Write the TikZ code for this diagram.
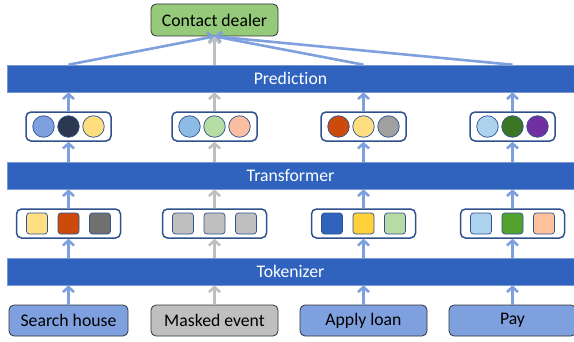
\documentclass[tikz,border=0pt]{standalone}
\usepackage{fontspec}
\setmainfont{Carlito}[Ligatures=CommonOff]
\usetikzlibrary{positioning,arrows.meta}

\definecolor{barblue}{RGB}{47,99,190}
\definecolor{barline}{RGB}{120,150,210}
\definecolor{arrowblue}{RGB}{127,160,222}
\definecolor{arrowgray}{RGB}{191,191,191}
\definecolor{eventblue}{RGB}{127,160,222}
\definecolor{maskgray}{RGB}{191,191,191}
\definecolor{boxline}{RGB}{47,82,143}
\definecolor{dealergreen}{RGB}{148,202,122}
% embedding circles
\definecolor{c11}{RGB}{127,160,222}
\definecolor{c12}{RGB}{43,56,80}
\definecolor{c13}{RGB}{255,222,128}
\definecolor{c21}{RGB}{140,188,230}
\definecolor{c22}{RGB}{181,221,165}
\definecolor{c23}{RGB}{251,190,160}
\definecolor{c31}{RGB}{204,74,10}
\definecolor{c32}{RGB}{255,222,128}
\definecolor{c33}{RGB}{160,160,160}
\definecolor{c41}{RGB}{173,210,238}
\definecolor{c42}{RGB}{58,118,36}
\definecolor{c43}{RGB}{112,48,160}
% token squares
\definecolor{s11}{RGB}{255,224,130}
\definecolor{s12}{RGB}{204,74,10}
\definecolor{s13}{RGB}{112,112,112}
\definecolor{s2}{RGB}{191,191,191}
\definecolor{s31}{RGB}{47,99,190}
\definecolor{s32}{RGB}{255,210,60}
\definecolor{s33}{RGB}{182,219,165}
\definecolor{s41}{RGB}{173,210,238}
\definecolor{s42}{RGB}{82,162,46}
\definecolor{s43}{RGB}{255,192,158}

\tikzset{
  event/.style={draw=black!80, line width=0.8pt, fill=eventblue, rounded corners=5pt, minimum width=127pt, minimum height=31pt, inner sep=0pt},
  layer/.style={draw=barline, line width=0.6pt, fill=barblue, text=white, minimum width=567pt, minimum height=27pt, inner sep=0pt},
  tokbox/.style={draw=boxline, line width=1.5pt, fill=white, rounded corners=5pt, minimum width=104pt, minimum height=29pt},
  embbox/.style={draw=boxline, line width=1.5pt, fill=white, rounded corners=5pt, minimum width=85pt, minimum height=29pt},
  square/.style={draw=boxline, line width=0.7pt, rounded corners=3pt, minimum size=21pt, inner sep=0pt},
  dot/.style={circle, draw=boxline, line width=0.7pt, minimum size=21.5pt, inner sep=0pt},
  dealer/.style={draw=black!80, line width=0.8pt, fill=dealergreen, rounded corners=5pt, minimum width=127pt, minimum height=32pt, inner sep=0pt},
  bluearrow/.style={draw=arrowblue, line width=2.6pt, -{Straight Barb[length=5pt,width=11pt]}},
  grayarrow/.style={draw=arrowgray, line width=2.6pt, -{Straight Barb[length=5pt,width=11pt]}}
}

\begin{document}
\begin{tikzpicture}[x=1pt, y=1pt, font=\fontsize{17.7}{20}\selectfont]
        \clip (0,0) rectangle (574,341);
        \node[event, minimum width=119pt] (search) at (68.5,20.5) {Search house};
        \node[event, fill=maskgray, right of=search, node distance=146pt] (masked) {Masked event};
        \node[event, right of=masked, node distance=149pt] (apply) {Apply loan};
        \node[event, right of=apply, node distance=149pt] (pay) {Pay};

        \node[layer] (tokenizer) at (290.5,69.5) {Tokenizer};
        \node[layer, above of=tokenizer, node distance=96pt] (transformer) {Transformer};
        \node[layer, above of=transformer, node distance=97pt] (prediction) {Prediction};

        % tokens
        \node[tokbox, above of=search, node distance=97pt] (tok1) {};
        \node[tokbox, above of=masked, node distance=97pt] (tok2) {};
        \node[tokbox, above of=apply, node distance=97pt] (tok3) {};
        \node[tokbox, above of=pay, node distance=97pt] (tok4) {};
        \node[square, fill=s11, left of=tok1, node distance=31.5pt] (sq11) {};
        \node[square, fill=s12] (sq12) at (tok1) {};
        \node[square, fill=s13, right of=tok1, node distance=31.5pt] (sq13) {};
        \node[square, fill=s2, left of=tok2, node distance=31.5pt] (sq21) {};
        \node[square, fill=s2] (sq22) at (tok2) {};
        \node[square, fill=s2, right of=tok2, node distance=31.5pt] (sq23) {};
        \node[square, fill=s31, left of=tok3, node distance=31.5pt] (sq31) {};
        \node[square, fill=s32] (sq32) at (tok3) {};
        \node[square, fill=s33, right of=tok3, node distance=31.5pt] (sq33) {};
        \node[square, fill=s41, left of=tok4, node distance=31.5pt] (sq41) {};
        \node[square, fill=s42] (sq42) at (tok4) {};
        \node[square, fill=s43, right of=tok4, node distance=31.5pt] (sq43) {};

        % embeddings
        \node[embbox, above of=tok1, node distance=97pt] (emb1) {};
        \node[embbox, above of=tok2, node distance=97pt] (emb2) {};
        \node[embbox, above of=tok3, node distance=97pt] (emb3) {};
        \node[embbox, above of=tok4, node distance=97pt] (emb4) {};
        \node[dot, fill=c11, left of=emb1, node distance=25pt] (dot11) {};
        \node[dot, fill=c12] (dot12) at (emb1) {};
        \node[dot, fill=c13, right of=emb1, node distance=25pt] (dot13) {};
        \node[dot, fill=c21, left of=emb2, node distance=25pt] (dot21) {};
        \node[dot, fill=c22] (dot22) at (emb2) {};
        \node[dot, fill=c23, right of=emb2, node distance=25pt] (dot23) {};
        \node[dot, fill=c31, left of=emb3, node distance=25pt] (dot31) {};
        \node[dot, fill=c32] (dot32) at (emb3) {};
        \node[dot, fill=c33, right of=emb3, node distance=25pt] (dot33) {};
        \node[dot, fill=c41, left of=emb4, node distance=25pt] (dot41) {};
        \node[dot, fill=c42] (dot42) at (emb4) {};
        \node[dot, fill=c43, right of=emb4, node distance=25pt] (dot43) {};

        \node[dealer, above of=emb2, node distance=106.5pt] (dealer) {Contact dealer};

        % events -> tokenizer
        \draw[bluearrow] (search.north) -- (search.north |- tokenizer.south);
        \draw[grayarrow] (masked.north) -- (masked.north |- tokenizer.south);
        \draw[bluearrow] (apply.north) -- (apply.north |- tokenizer.south);
        \draw[bluearrow] (pay.north) -- (pay.north |- tokenizer.south);
        % tokenizer -> tokens
        \draw[bluearrow] (tokenizer.north -| tok1) -- (tok1.south);
        \draw[grayarrow] (tokenizer.north -| tok2) -- (tok2.south);
        \draw[bluearrow] (tokenizer.north -| tok3) -- (tok3.south);
        \draw[bluearrow] (tokenizer.north -| tok4) -- (tok4.south);
        % tokens -> transformer
        \draw[bluearrow] (tok1.north) -- (tok1.north |- transformer.south);
        \draw[grayarrow] (tok2.north) -- (tok2.north |- transformer.south);
        \draw[bluearrow] (tok3.north) -- (tok3.north |- transformer.south);
        \draw[bluearrow] (tok4.north) -- (tok4.north |- transformer.south);
        % transformer -> embeddings
        \draw[bluearrow] (transformer.north -| emb1) -- (emb1.south);
        \draw[grayarrow] (transformer.north -| emb2) -- (emb2.south);
        \draw[bluearrow] (transformer.north -| emb3) -- (emb3.south);
        \draw[bluearrow] (transformer.north -| emb4) -- (emb4.south);
        % embeddings -> prediction
        \draw[bluearrow] (emb1.north) -- (emb1.north |- prediction.south);
        \draw[grayarrow] (emb2.north) -- (emb2.north |- prediction.south);
        \draw[bluearrow] (emb3.north) -- (emb3.north |- prediction.south);
        \draw[bluearrow] (emb4.north) -- (emb4.north |- prediction.south);
        % prediction -> dealer
        \draw[bluearrow] (prediction.north -| emb1) -- (dealer.south);
        \draw[bluearrow] (prediction.north -| emb3) -- (dealer.south);
        \draw[bluearrow] (prediction.north -| emb4) -- (dealer.south);
        \draw[grayarrow] (prediction.north -| emb2) -- (dealer.south);
    \end{tikzpicture}
\end{document}
